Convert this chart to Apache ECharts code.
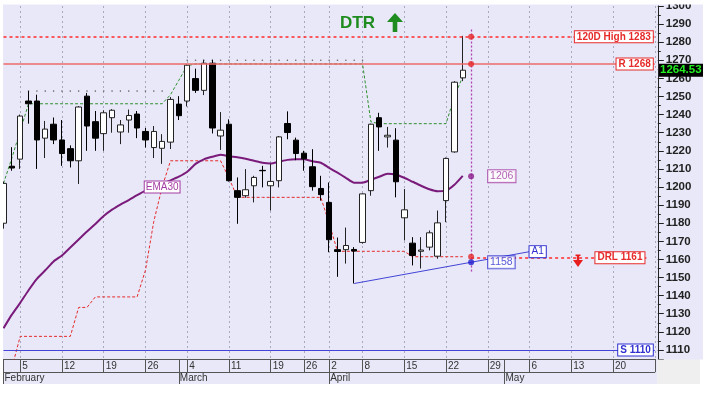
<!DOCTYPE html>
<html>
<head>
<meta charset="utf-8">
<script src="https://cdn.jsdelivr.net/npm/echarts@6/dist/echarts.min.js"></script>
<style>
  html, body { margin: 0; padding: 0; background: #fff; }
  #chart { width: 703px; height: 397px; }
</style>
</head>
<body>
<div id="chart"></div>
<script>
// trading days shown on the axis (Feb 1 .. May 27)
const days = [
  '02-01', '02-02', '02-05', '02-06', '02-07', '02-08', '02-09', '02-12', '02-13', '02-14', '02-15', '02-16',
  '02-19', '02-20', '02-21', '02-22', '02-23', '02-26', '02-27', '02-28', '02-29',
  '03-01', '03-04', '03-05', '03-06', '03-07', '03-08', '03-11', '03-12', '03-13', '03-14', '03-15',
  '03-19', '03-20', '03-21', '03-22', '03-26', '03-27', '03-28',
  '04-02', '04-03', '04-04', '04-05', '04-08', '04-09', '04-10', '04-11', '04-12', '04-15', '04-16', '04-17',
  '04-18', '04-19', '04-22', '04-23', '04-24', '04-25', '04-26', '04-29', '04-30',
  '05-01', '05-02', '05-03', '05-06', '05-07', '05-08', '05-09', '05-10', '05-13', '05-14', '05-15', '05-16',
  '05-17', '05-20', '05-21', '05-22', '05-23', '05-24', '05-27'
];
const weekTicks = ['02-05', '02-12', '02-19', '02-26', '03-04', '03-11', '03-19', '03-26', '04-02', '04-08',
  '04-15', '04-22', '04-29', '05-06', '05-13', '05-20', '05-27'];
const monthStarts = ['02-01', '03-01', '04-02', '05-01'];
const monthNames = ['February', 'March', 'April', 'May'];

// [open, close, low, high]
const candles = [
  [1180, 1202, 1177, 1203], [1211.5, 1210.5, 1209, 1222], [1215.4, 1239.2, 1210, 1240], [1247.5, 1246, 1235, 1253],
  [1247.5, 1226, 1210, 1251], [1227, 1232, 1216, 1236.5], [1234.7, 1226, 1223.7, 1238.4], [1226, 1218.5, 1211.7, 1237],
  [1221.2, 1214.5, 1210.8, 1223], [1214.5, 1244.2, 1201.7, 1244.7], [1250.2, 1233.7, 1220, 1252], [1236.1, 1227, 1220, 1242],
  [1229.5, 1241, 1220, 1242.4], [1238.3, 1242.4, 1230, 1243], [1230.4, 1234.3, 1223.7, 1237], [1237, 1239.5, 1230, 1242.8],
  [1240.3, 1232.6, 1227, 1242], [1230.7, 1226, 1221.8, 1232.6], [1221.8, 1230.7, 1216, 1233.7], [1221.4, 1225.2, 1212.8, 1229.2],
  [1224.8, 1248.4, 1221, 1249.7], [1245.8, 1239.4, 1237, 1250.2], [1247.5, 1267.3, 1244.5, 1267.8], [1259.9, 1253.4, 1252, 1265.4],
  [1253.4, 1268.4, 1250.8, 1270.3], [1268.4, 1232.6, 1229.6, 1270.3], [1228.2, 1231.4, 1220.5, 1241.4], [1234.7, 1203.5, 1203, 1237.4],
  [1198, 1194.3, 1179.7, 1205.3], [1195.2, 1198.5, 1194.1, 1209.9], [1200.7, 1205.3, 1191.5, 1206.2], [1209.2, 1209, 1199.8, 1211.7],
  [1200.7, 1203.1, 1187, 1212.7], [1203.5, 1227.7, 1199.8, 1228.2], [1235.1, 1230.1, 1226.4, 1241.8], [1225.9, 1218.5, 1214.8, 1227.3],
  [1218.7, 1215.6, 1209, 1220], [1211.2, 1200.2, 1198, 1220.9], [1199.2, 1195.8, 1192.5, 1206.2], [1191.5, 1170.9, 1164, 1202.5],
  [1165.4, 1164.4, 1150.4, 1172.1], [1165.4, 1167.7, 1157.7, 1177.6], [1165.5, 1164.6, 1146.7, 1166.8], [1169.4, 1196.2, 1168.7, 1196.5],
  [1198, 1234.7, 1195.2, 1235], [1238.3, 1233.2, 1220, 1241], [1227.7, 1228.6, 1221.8, 1233.2], [1225.9, 1202.9, 1194.3, 1232.5],
  [1183, 1187.4, 1170.5, 1198.9], [1169, 1162.2, 1156.7, 1172.3], [1164.5, 1165.2, 1155, 1172.3], [1166.8, 1174.7, 1165, 1176],
  [1161.8, 1180.2, 1160.4, 1187], [1192.5, 1215.8, 1180.6, 1216.3], [1219.4, 1257.9, 1219, 1258.5], [1260.3, 1264.53, 1258.5, 1283.5]
];

const ema30 = [
  1122, 1129.5, 1136, 1143, 1149.3, 1154, 1158.9, 1162.2, 1166.6, 1171, 1175.4, 1179.6, 1184, 1187.5, 1190.3, 1192.8,
  1195.5, 1198, 1199.9, 1201.8, 1203.7, 1205.7, 1208.4, 1212.8, 1215.3, 1216.7, 1217.8, 1217, 1216.4, 1215.6,
  1214.5, 1213.4, 1213, 1214, 1215, 1215.4, 1215.3, 1214.2, 1213.4, 1210.6, 1207.9, 1205.1, 1202.4, 1202.4,
  1204, 1205.7, 1207.3, 1206.8, 1205.1, 1202.9, 1200.7, 1198.8, 1197.7, 1198, 1201.3, 1206.2
];

// red dashed trailing low line
const stopLine = [
  1085, 1100, 1117.5, 1117.5, 1117.5, 1117.5, 1117.5, 1117.5, 1117.5, 1133.5, 1133.5,
  1139.3, 1139.3, 1139.3, 1139.3, 1139.3, 1139.3, 1154, 1181, 1200,
  1214.5, 1214.5, 1214.5, 1214.5, 1214.5, 1214.5, 1214.5, 1205,
  1194.3, 1194.3, 1194.3, 1194.3, 1194.3, 1194.3, 1194.3, 1194.3, 1194.3, 1194.3, 1194.3, 1180,
  1164.5, 1164.5, 1164.5, 1164.5, 1164.5, 1164.5, 1164.5, 1164.5, 1164.5,
  1161.5, 1161.5, 1161.5, 1161.5, 1161.5, 1161.5, 1161.5
];

// green dashed trailing high line
const highLine = [
  1202, 1216, 1231, 1246, 1246, 1246, 1246, 1246, 1246, 1246, 1246, 1246, 1246, 1246, 1246, 1246, 1246, 1246, 1246, 1246,
  1251, 1259, 1267, 1268, 1268, 1268, 1268, 1268, 1268, 1268, 1268, 1268, 1268, 1268, 1268, 1268, 1268, 1268, 1268, 1268,
  1268, 1268, 1268, 1268, 1236, 1235, 1235, 1235, 1235, 1235, 1235, 1235, 1235, 1235, 1250, 1261
];

// dotted range-high markers
const highDots = [
  null, null, null, 1253, 1253, 1253, 1253, 1253, 1253, 1253, 1253, 1253, 1253, 1253, 1253, 1253, 1253, 1253, 1253, 1253,
  null, null, 1270, 1270, 1270, 1270, 1270, 1270, 1270, 1270, 1270, 1270, 1270, 1270, 1270, 1270, 1270, 1270, 1270, 1270,
  1270, 1270, 1270, 1270, null, null, null, null, null, null, null, null, null, null, null, null
];

const high120 = 1283;
const resistance = 1268;
const support = 1110;
const drl = 1161;
const drlEnd = '05-24';
const trendA1 = [['04-05', 1146.7], ['05-06', 1164.3]];
const markerDay = '04-25';
const markerVals = [1283, 1268, 1206, 1161.5, 1158.4];
const markerTop = 1287;
const markerBottom = 1153;
const emaLabelAt = ['02-28', 1200];
const lastClose = 1264.53;

const FONT = '"Liberation Sans", Arial, sans-serif';
const RED = '#e62a2a';
const BLUE = '#3030d0';
const PURPLE = '#a23ca2';

function boxLabel(text, color) {
  return {
    show: true,
    position: 'insideEnd',
    distance: 2,
    formatter: text,
    color: color,
    fontSize: 10,
    fontWeight: 'bold',
    fontFamily: FONT,
    backgroundColor: '#fff',
    borderColor: color,
    borderWidth: 1,
    padding: [1, 2, 0, 2]
  };
}

const weekSet = new Set(weekTicks);
const monthSet = new Set(monthStarts);

const chart = echarts.init(document.getElementById('chart'), null, {renderer: 'canvas', devicePixelRatio: 1});

const option = {
  animation: false,
  backgroundColor: '#e8e8f8',
  grid: {left: 3.5, top: 4.5, right: 48.2, bottom: 38, containLabel: false},
  xAxis: [
    {
      type: 'category',
      data: days,
      boundaryGap: false,
      position: 'bottom',
      axisLine: {lineStyle: {color: '#555', width: 1}},
      axisTick: {
        interval: (i, v) => weekSet.has(v) || monthSet.has(v),
        length: 13,
        lineStyle: {color: '#555'}
      },
      axisLabel: {
        interval: (i, v) => weekSet.has(v),
        formatter: v => String(parseInt(v.slice(3), 10)),
        align: 'left',
        margin: 2,
        padding: [0, 0, 0, 2],
        showMaxLabel: true,
        fontSize: 10,
        fontFamily: FONT,
        color: '#333'
      },
      splitLine: {
        show: true,
        interval: (i, v) => weekSet.has(v),
        lineStyle: {color: '#a9a9bd', type: [2, 3], width: 1}
      }
    },
    {
      type: 'category',
      data: days,
      boundaryGap: false,
      position: 'bottom',
      offset: 13,
      axisLine: {lineStyle: {color: '#555', width: 1}},
      axisTick: {
        interval: (i, v) => monthSet.has(v),
        length: 12,
        lineStyle: {color: '#555'}
      },
      axisLabel: {
        interval: (i, v) => monthSet.has(v),
        formatter: v => monthNames[monthStarts.indexOf(v)],
        align: 'left',
        margin: 1,
        padding: [0, 0, 0, 1],
        fontSize: 10,
        fontFamily: FONT,
        color: '#333'
      },
      splitLine: {show: false}
    }
  ],
  yAxis: {
    type: 'value',
    position: 'right',
    offset: 3,
    min: 1105,
    max: 1300,
    splitNumber: 20,
    minInterval: 10,
    maxInterval: 10,
    axisLine: {show: true, lineStyle: {color: '#222'}},
    axisTick: {show: true, length: 6, lineStyle: {color: '#222'}},
    minorTick: {show: true, splitNumber: 2, length: 3, lineStyle: {color: '#222'}},
    axisLabel: {
      showMinLabel: false, margin: 8, fontSize: 11.5, fontWeight: 'bold', fontFamily: FONT, color: '#222',
      formatter: v => String(v)
    },
    splitLine: {show: false}
  },
  series: [
    {
      type: 'line',
      data: stopLine,
      symbol: 'none',
      lineStyle: {color: RED, width: 1, type: [3, 2]},
      z: 2
    },
    {
      type: 'line',
      data: highLine,
      symbol: 'none',
      lineStyle: {color: '#2f8f2f', width: 1, type: [3, 2]},
      z: 2
    },
    {
      type: 'line',
      data: highDots,
      showSymbol: true,
      showAllSymbol: true,
      symbol: 'circle',
      symbolSize: 1.6,
      itemStyle: {color: '#666'},
      lineStyle: {width: 0, opacity: 0},
      z: 2
    },
    {
      type: 'line',
      data: ema30,
      symbol: 'none',
      smooth: 0.2,
      lineStyle: {color: '#7a1a7a', width: 2},
      z: 3,
      markPoint: {
        silent: true,
        symbol: 'rect',
        symbolSize: 1,
        itemStyle: {color: 'rgba(0,0,0,0)'},
        data: [{
          coord: emaLabelAt,
          label: {
            show: true, position: 'inside', formatter: 'EMA30', color: PURPLE, fontSize: 10, fontFamily: FONT,
            backgroundColor: '#fff', borderColor: PURPLE, borderWidth: 1, padding: [1, 1, 0, 1]
          }
        }]
      }
    },
    {
      type: 'candlestick',
      data: candles,
      barWidth: 6,
      z: 4,
      itemStyle: {color: '#ffffff', color0: '#000000', borderColor: '#222', borderColor0: '#000', borderWidth: 1},
      markLine: {
        silent: true,
        symbol: ['none', 'none'],
        data: [
          {yAxis: resistance, lineStyle: {color: '#ec6a6a', type: 'solid', width: 1.5}, label: boxLabel('R ' + resistance, RED)},
          {yAxis: support, lineStyle: {color: '#4444d8', type: 'solid', width: 1.2}, label: boxLabel('S ' + support, BLUE)},
          [
            {coord: trendA1[0], lineStyle: {color: '#4444d8', type: 'solid', width: 1}},
            {coord: trendA1[1], label: Object.assign(boxLabel('A1', BLUE), {position: 'end', distance: 0, fontWeight: 'normal'})}
          ]
        ]
      }
    },
    {
      // dashed level lines, on their own series
      type: 'line',
      data: [],
      z: 4,
      markLine: {
        silent: true,
        symbol: ['none', 'none'],
        lineStyle: {color: '#ff2a2a', type: [3, 3], width: 1.5, opacity: 1},
        data: [
          {yAxis: high120, label: boxLabel('120D High ' + high120, RED)},
          [
            {coord: [markerDay, drl]},
            {coord: [drlEnd, drl], label: boxLabel('DRL ' + drl, RED)}
          ]
        ]
      }
    },
    {
      type: 'line',
      data: [],
      z: 4,
      markLine: {
        silent: true,
        symbol: ['none', 'none'],
        lineStyle: {color: '#b040b0', type: [2, 2], width: 1.3, opacity: 1},
        label: {show: false},
        data: [[{coord: [markerDay, markerTop]}, {coord: [markerDay, markerBottom]}]]
      }
    },
    {
      type: 'scatter',
      symbolSize: 6,
      z: 6,
      data: markerVals.map((v, k) => {
        const colors = [RED, RED, '#8a1a8a', RED, '#2020d0'];
        const item = {value: [markerDay, v], itemStyle: {color: colors[k]}};
        if (k === 2 || k === 4) {
          const c = k === 2 ? PURPLE : BLUE;
          item.label = {
            show: true, position: 'right', distance: 14, formatter: String(Math.round(v)),
            color: c, fontSize: 10.5, fontFamily: FONT, backgroundColor: '#fff',
            borderColor: c, borderWidth: 1, padding: [1, 2, 0, 2]
          };
        }
        return item;
      })
    }
  ]
};

chart.setOption(option);

const py = chart.convertToPixel({yAxisIndex: 0}, lastClose);

chart.setOption({
  graphic: [
    {type: 'rect', z: 100, shape: {x: 0, y: 0, width: 703, height: 4.5}, style: {fill: '#fff'}},
    {type: 'rect', z: 100, shape: {x: 0, y: 0, width: 3, height: 397}, style: {fill: '#fff'}},
    {type: 'rect', z: 100, shape: {x: 0, y: 384, width: 703, height: 13}, style: {fill: '#fff'}},
    {type: 'rect', z: 100, shape: {x: 657, y: 359.5, width: 43, height: 24.5}, style: {fill: '#efefef'}},
    {type: 'rect', z: 100, shape: {x: 700, y: 359.5, width: 3, height: 25}, style: {fill: '#fff'}},
    {type: 'rect', z: 110, shape: {x: 659, y: py - 6.5, width: 50, height: 13}, style: {fill: '#000'}},
    {
      type: 'text', z: 111, x: 660, y: py,
      style: {text: String(lastClose), fill: '#22ee22', font: 'bold 11.5px ' + FONT, verticalAlign: 'middle'}
    },
    {
      type: 'text', z: 50, x: 340, y: 15,
      style: {text: 'DTR', fill: '#1e8c1e', font: 'bold 17px ' + FONT}
    },
    {
      type: 'polygon', z: 50,
      shape: {points: [[387, 22], [395, 13], [403, 22], [397.3, 22], [397.3, 32], [392.7, 32], [392.7, 22]]},
      style: {fill: '#1e8c1e'}
    },
    {
      type: 'polygon', z: 50,
      shape: {points: [[575.5, 254.5], [580.5, 254.5], [580.5, 256], [579.2, 256], [579.2, 260], [583, 260],
        [578, 267], [573, 260], [576.8, 260], [576.8, 256], [575.5, 256]]},
      style: {fill: '#e81e1e'}
    }
  ]
});
</script>
</body>
</html>
